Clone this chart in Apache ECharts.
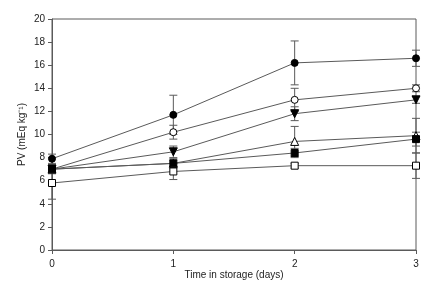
<!DOCTYPE html>
<html>
<head>
<meta charset="utf-8">
<script src="https://cdn.jsdelivr.net/npm/echarts@6/dist/echarts.min.js"></script>
<style>
  html, body { margin: 0; padding: 0; background: #fff; }
  #chart { width: 432px; height: 288px; }
</style>
</head>
<body>
<div id="chart"></div>
<script>
  // storage days
  const days = [0, 1, 2, 3];
  const xTicks = [0, 1, 2, 3];
  const yTicks = [0, 2, 4, 6, 8, 10, 12, 14, 16, 18, 20];

  // PV means and error bar half-widths, one pair per treatment
  const filledCircle = [7.9, 11.7, 16.2, 16.6];
  const filledCircleErr = [0.4, 1.7, 1.9, 0.7];
  const openCircle = [7.0, 10.2, 13.0, 14.0];
  const openCircleErr = [0.4, 0.6, 1.0, 0.3];
  const downTriangle = [7.0, 8.5, 11.8, 13.0];
  const downTriangleErr = [0.3, 0.5, 0.6, 0.3];
  const openTriangle = [7.0, 7.5, 9.4, 9.9];
  const openTriangleErr = [0.3, 0.4, 1.3, 1.5];
  const filledSquare = [7.0, 7.5, 8.4, 9.6];
  const filledSquareErr = [0.3, 0.3, 0.4, 0.6];
  const openSquare = [5.8, 6.8, 7.3, 7.3];
  const openSquareErr = [1.4, 0.7, 0.2, 1.1];

  const groups = [
    { values: filledCircle, err: filledCircleErr, symbol: 'circle', fill: '#000', rotate: 0 },
    { values: openCircle, err: openCircleErr, symbol: 'circle', fill: '#fff', rotate: 0 },
    { values: downTriangle, err: downTriangleErr, symbol: 'triangle', fill: '#000', rotate: 180 },
    { values: openTriangle, err: openTriangleErr, symbol: 'triangle', fill: '#fff', rotate: 0 },
    { values: filledSquare, err: filledSquareErr, symbol: 'rect', fill: '#000', rotate: 0 },
    { values: openSquare, err: openSquareErr, symbol: 'rect', fill: '#fff', rotate: 0 }
  ];

  const lineColor = '#5a5a5a';
  const font = 'Liberation Sans, Arial, sans-serif';

  function errorBars(g) {
    return {
      type: 'custom',
      z: 1,
      silent: true,
      data: days.map((d, i) => [d, g.values[i] - g.err[i], g.values[i] + g.err[i]]),
      renderItem: function (params, api) {
        const lo = api.coord([api.value(0), api.value(1)]);
        const hi = api.coord([api.value(0), api.value(2)]);
        const w = 4;
        const style = { stroke: lineColor, lineWidth: 1 };
        return {
          type: 'group',
          children: [
            { type: 'line', shape: { x1: lo[0], y1: lo[1], x2: hi[0], y2: hi[1] }, style: style },
            { type: 'line', shape: { x1: lo[0] - w, y1: lo[1], x2: lo[0] + w, y2: lo[1] }, style: style },
            { type: 'line', shape: { x1: hi[0] - w, y1: hi[1], x2: hi[0] + w, y2: hi[1] }, style: style }
          ]
        };
      }
    };
  }

  const series = [];
  groups.forEach(g => series.push(errorBars(g)));
  groups.forEach(g => {
    series.push({
      type: 'line',
      z: 3,
      data: days.map((d, i) => [d, g.values[i]]),
      symbol: g.symbol,
      symbolSize: g.symbol === 'triangle' ? 8 : 7,
      symbolRotate: g.rotate,
      showSymbol: true,
      lineStyle: { color: lineColor, width: 1 },
      itemStyle: { color: g.fill, borderColor: '#000', borderWidth: 1 },
      emphasis: { disabled: true }
    });
  });

  const chart = echarts.init(document.getElementById('chart'));
  chart.setOption({
    animation: false,
    backgroundColor: '#fff',
    grid: {
      left: 52, right: 16, top: 19, bottom: 38,
      show: true, borderColor: lineColor, borderWidth: 1
    },
    xAxis: {
      type: 'value',
      min: 0, max: 3, interval: 1,
      name: 'Time in storage (days)',
      nameLocation: 'middle',
      nameGap: 20,
      nameMoveOverlap: false,
      nameTextStyle: { fontFamily: font, fontSize: 10, color: '#222' },
      axisLine: { lineStyle: { color: lineColor } },
      axisTick: { show: true, length: 4, lineStyle: { color: lineColor } },
      axisLabel: {
        fontFamily: font, fontSize: 10, color: '#222', margin: 9,
        formatter: v => xTicks.includes(v) ? String(v) : ''
      },
      splitLine: { show: false }
    },
    yAxis: {
      type: 'value',
      min: 0, max: 20, interval: 2,
      name: 'PV (mEq kg\u207B\u00B9)',
      nameLocation: 'middle',
      nameGap: 25,
      nameMoveOverlap: false,
      nameTextStyle: { fontFamily: font, fontSize: 10, color: '#222' },
      axisLine: { show: true, lineStyle: { color: lineColor } },
      axisTick: { show: true, length: 4, lineStyle: { color: lineColor } },
      axisLabel: {
        fontFamily: font, fontSize: 10, color: '#222', margin: 7,
        formatter: v => yTicks.includes(v) ? String(v) : ''
      },
      splitLine: { show: false }
    },
    series: series
  });
</script>
</body>
</html>
